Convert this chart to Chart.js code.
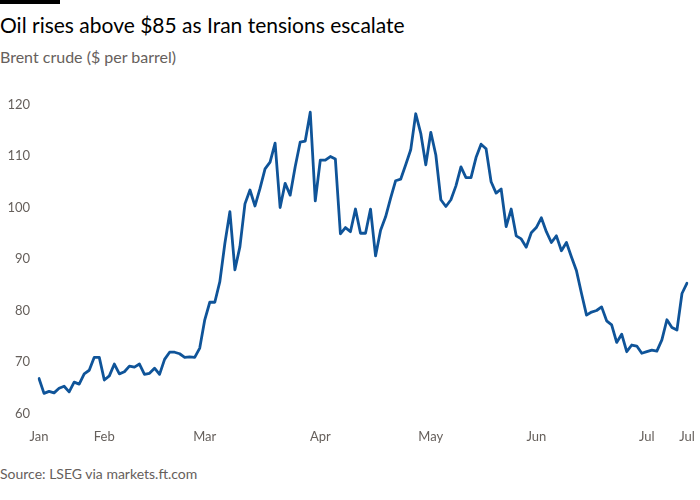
<!DOCTYPE html>
<html>
<head>
<meta charset="utf-8">
<script src="https://cdn.jsdelivr.net/npm/chart.js@4"></script>
<style>
  html, body { margin: 0; padding: 0; background: #ffffff; }
  body { width: 700px; height: 500px; position: relative; overflow: hidden; font-family: Lato, "Open Sans", sans-serif; }
  #bar { position: absolute; left: 0; top: 0; width: 60px; height: 4px; background: #000; }
  #title { position: absolute; left: 0; top: 12px; font-size: 21px; color: #000; white-space: nowrap; }
  #subtitle { position: absolute; left: 0; top: 47px; font-size: 16px; color: #66605c; white-space: nowrap; }
  #source { position: absolute; left: 0; top: 465px; font-size: 14px; color: #66605c; white-space: nowrap; }
  #wrap { position: absolute; left: 0; top: 0; width: 700px; height: 460px; }
</style>
</head>
<body>
<div id="bar"></div>
<div id="title">Oil rises above $85 as Iran tensions escalate</div>
<div id="subtitle">Brent crude ($ per barrel)</div>
<div id="wrap"><canvas id="c"></canvas></div>
<div id="source">Source: LSEG via markets.ft.com</div>
<script>
// Brent crude, daily closes
const brent = [
  66.8, 63.9, 64.3, 64.0, 64.9, 65.3, 64.2, 66.1, 65.7, 67.7,
  68.4, 70.9, 70.9, 66.5, 67.3, 69.6, 67.7, 68.1, 69.2, 69.0,
  69.6, 67.6, 67.8, 68.8, 67.6, 70.5, 71.9,
  71.9, 71.6, 70.9, 71.0, 70.9, 72.7, 78.2, 81.6, 81.6, 85.6,
  93.0, 99.2, 87.9, 92.4, 100.7, 103.4, 100.3, 103.7, 107.5, 108.8,
  112.5, 100.0, 104.7,
  102.4, 107.9, 112.7, 112.9, 118.5, 101.3, 109.2, 109.2, 109.9, 109.4,
  94.9, 96.1, 95.3, 99.7, 95.0, 95.0, 99.7, 90.6, 95.6, 98.2,
  101.8, 105.2, 105.5, 108.3, 111.2, 118.2,
  114.4, 108.3, 114.6, 110.2, 101.5, 100.2, 101.5, 104.2, 107.9, 105.8,
  105.8, 109.7, 112.3, 111.4, 105.0, 102.8, 103.6, 96.3, 99.7, 94.5,
  93.9, 92.3, 95.1, 96.1, 98.0, 95.3,
  93.2, 94.5, 91.6, 93.2, 90.4, 87.7, 83.3, 79.1, 79.7, 80.0,
  80.7, 78.0, 77.2, 73.8, 75.4, 72.0, 73.3, 73.1, 71.7, 72.0,
  72.3, 72.1, 74.3, 78.2, 76.7, 76.2, 83.3, 85.3
];
const monthLabels = ['Jan', 'Feb', 'Mar', 'Apr', 'May', 'Jun', 'Jul', 'Jul'];
const monthStartIndex = [0, 13, 33, 56, 78, 99, 121, 129];
const yTicks = [60, 70, 80, 90, 100, 110, 120];

const categories = brent.map((v, i) => {
  const k = monthStartIndex.indexOf(i);
  return k >= 0 ? monthLabels[k] : '';
});

const tickFont = { family: 'Lato, "Open Sans", sans-serif', size: 13 };

new Chart(document.getElementById('c'), {
  type: 'line',
  data: {
    labels: categories,
    datasets: [{
      data: brent,
      borderColor: '#0f5499',
      borderWidth: 2.8,
      borderJoinStyle: 'round',
      borderCapStyle: 'round',
      pointRadius: 0,
      tension: 0,
      fill: false
    }]
  },
  options: {
    responsive: true,
    maintainAspectRatio: false,
    animation: false,
    events: [],
    layout: { padding: { top: 104.5, right: 13, left: 0, bottom: 0 } },
    plugins: { legend: { display: false }, tooltip: { enabled: false } },
    scales: {
      x: {
        type: 'category',
        offset: false,
        border: { display: false },
        grid: { display: false, drawTicks: false },
        afterFit: (s) => { s.height = 46.5; s.paddingLeft = 0; s.paddingRight = 0; },
        ticks: {
          autoSkip: false,
          maxRotation: 0,
          padding: 16,
          color: '#66605c',
          font: tickFont,
          callback: function (val, idx) {
            const l = categories[idx];
            return l === '' ? null : l;
          }
        }
      },
      y: {
        min: 60,
        max: 120,
        border: { display: false },
        grid: { display: false, drawTicks: false },
        afterFit: (s) => { s.width = 39; s.paddingTop = 0; s.paddingBottom = 0; },
        afterBuildTicks: (s) => { s.ticks = yTicks.map(v => ({ value: v })); },
        ticks: {
          padding: 9,
          color: '#66605c',
          font: tickFont
        }
      }
    }
  }
});
</script>
</body>
</html>
